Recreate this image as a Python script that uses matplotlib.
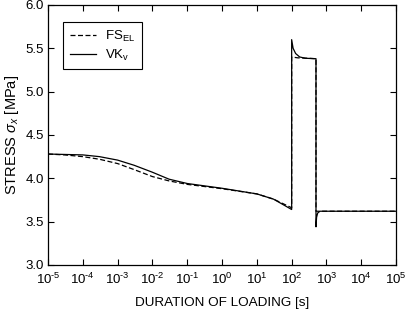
import matplotlib
matplotlib.use("Agg")
import matplotlib.pyplot as plt
from matplotlib.ticker import FixedLocator, NullLocator

plt.rcParams['font.family'] = ['Liberation Sans', 'DejaVu Sans']
plt.rcParams['mathtext.fontset'] = 'custom'
plt.rcParams['mathtext.rm'] = 'Liberation Sans'
plt.rcParams['mathtext.it'] = 'Liberation Sans:italic'
plt.rcParams['mathtext.bf'] = 'Liberation Sans:bold'

# FS_EL (dashed)
fs_t = [1e-5, 3e-5, 1e-4, 3e-4, 1e-3, 3e-3, 1e-2, 3e-2, 1e-1, 1e0, 1e1, 3e1, 1e2,
        1e2, 150, 300, 500, 500, 1e3, 1e5]
fs_v = [4.28, 4.27, 4.25, 4.22, 4.17, 4.10, 4.02, 3.97, 3.93, 3.88, 3.82, 3.76, 3.66,
        5.40, 5.39, 5.385, 5.38, 3.62, 3.62, 3.62]

# VK_v (solid)
vk_t = [1e-5, 1e-4, 3e-4, 1e-3, 3e-3, 1e-2, 3e-2, 1e-1, 1e0, 1e1, 3e1, 1e2,
        1e2, 110, 130, 170, 250, 500, 500, 520, 560, 650, 1e3, 1e5]
vk_v = [4.28, 4.27, 4.25, 4.21, 4.15, 4.07, 3.99, 3.94, 3.885, 3.82, 3.76, 3.64,
        5.60, 5.50, 5.44, 5.40, 5.385, 5.38, 3.44, 3.55, 3.60, 3.62, 3.62, 3.62]

x_exps = [-5, -4, -3, -2, -1, 0, 1, 2, 3, 4, 5]
y_ticks = [3.0, 3.5, 4.0, 4.5, 5.0, 5.5, 6.0]

fig = plt.figure(figsize=(4.05, 3.11), dpi=100)
ax = fig.add_axes([0.1185, 0.148, 0.8595, 0.836])

ax.plot(fs_t, fs_v, color='black', lw=0.9, ls=(0, (4, 2)), label='FS$_{\\mathrm{EL}}$')
ax.plot(vk_t, vk_v, color='black', lw=0.9, ls='-', label='VK$_{\\mathrm{v}}$')

ax.set_xscale('log')
ax.set_xlim(1e-5, 1e5)
ax.set_ylim(3.0, 6.0)
ax.xaxis.set_major_locator(FixedLocator([10.0**e for e in x_exps]))
ax.xaxis.set_minor_locator(NullLocator())
ax.set_xticklabels(['10$^{\\text{%s}}$' % str(e) for e in x_exps])
ax.set_yticks(y_ticks)
ax.set_yticklabels(['%.1f' % v for v in y_ticks])

ax.tick_params(direction='in', top=True, right=True, length=4, width=0.8,
               labelsize=9.5)
ax.tick_params(axis='x', pad=5)
ax.tick_params(axis='y', pad=3)
for s in ax.spines.values():
    s.set_linewidth(0.9)

ax.set_xlabel('DURATION OF LOADING [s]', fontsize=9.7, labelpad=7)
ax.set_ylabel('STRESS $\\sigma_x$ [MPa]', fontsize=10.5, labelpad=3)

leg = ax.legend(loc='upper left', bbox_to_anchor=(0.043, 0.934), borderaxespad=0,
                fontsize=9.5, frameon=True, fancybox=False, edgecolor='black',
                framealpha=1, handlelength=2.0, handletextpad=0.7,
                borderpad=0.5, labelspacing=0.3)
leg.get_frame().set_linewidth(0.8)

fig.savefig('out.png', dpi=100)
